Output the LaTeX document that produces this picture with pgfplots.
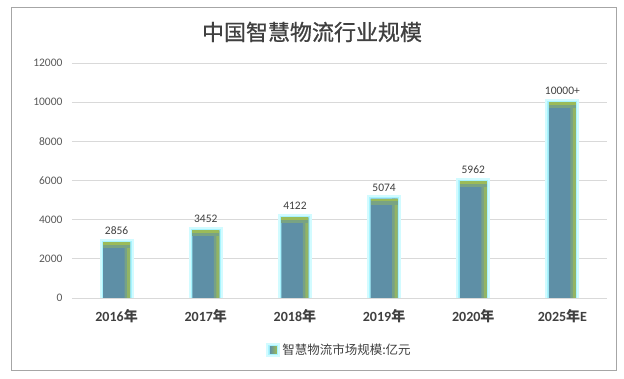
\documentclass[border=0pt]{standalone}
\usepackage{fontspec}
\setmainfont{Carlito}
\newfontfamily\cjk{Noto Sans CJK SC}
\newfontfamily\cjkt[FakeBold=0.8]{Noto Sans CJK SC}
\usepackage{pgfplots}
\pgfplotsset{compat=1.18}
\usepackage{pgfplotstable}
\definecolor{barblue}{HTML}{5E8FA6}
\definecolor{bargreen}{HTML}{9BBB59}
\definecolor{glow}{HTML}{D2FBFF}
\definecolor{glowin}{HTML}{A8F4FF}
\definecolor{txt}{HTML}{404040}
\definecolor{ticktxt}{HTML}{595959}
\definecolor{gridc}{HTML}{D9D9D9}
\definecolor{framec}{HTML}{A6A6A6}
\pgfplotstableread{
x y label
0 2856 2856
1 3452 3452
2 4122 4122
3 5074 5074
4 5962 5962
5 10000 10000+
}\datatable
\begin{document}
\begin{tikzpicture}[x=1pt,y=1pt]
\fill[white] (0,0) rectangle (624,379);
\draw[framec, line width=1pt] (11,8) rectangle (616,371);
\node[text=txt, font={\fontsize{22}{26}\selectfont\cjkt}] at (312,347) {中国智慧物流行业规模};
\begin{axis}[
  at={(72pt,81pt)}, anchor=south west,
  scale only axis, width=535pt, height=235pt,
  xmin=-0.5, xmax=5.5, ymin=0, ymax=12000,
  ytick={0,2000,...,12000},
  scaled y ticks=false,
  xtick=data,
  xticklabels={{\bfseries 2016{\cjk 年}},{\bfseries 2017{\cjk 年}},{\bfseries 2018{\cjk 年}},{\bfseries 2019{\cjk 年}},{\bfseries 2020{\cjk 年}},{\bfseries 2025{\cjk 年}E}},
  xticklabel style={font=\fontsize{14}{16}\selectfont, text=txt, yshift=-8pt},
  yticklabel style={font=\fontsize{11.5}{13}\selectfont, text=ticktxt, xshift=-6pt},
  /pgf/number format/.cd, 1000 sep={}, assume math mode=true, /pgfplots/.cd,
  axis line style={draw=none},
  major tick length=0pt,
  ymajorgrids, grid style={gridc, line width=0.8pt},
  ybar, bar width=27pt,
  legend style={at={(axis description cs:0.5,-0.221)}, anchor=center, draw=none, fill=none,
    font=\fontsize{12.5}{14}\selectfont\cjk, text=txt, legend cell align=left},
  legend image code/.code={\shade[left color=barblue, right color=bargreen] (0pt,-3.5pt) rectangle (7pt,3.5pt);},
]
% main bar with glow and labels
\addplot[bar shift=0pt, draw=none, fill=barblue,
  preaction={draw=glow, line width=7pt},
  preaction={draw=glowin, line width=3pt},
  point meta=explicit symbolic,
  nodes near coords,
  nodes near coords style={font=\fontsize{11.5}{13}\selectfont, text=txt, anchor=south, yshift=4pt}]
  table[x=x, y=y, meta=label] {\datatable};
\addlegendentry{智慧物流市场规模:亿元}
% right-edge highlight
\addplot[bar shift=9.5pt, bar width=3pt, draw=none, fill=bargreen!40!barblue, forget plot]
  table[x=x, y=y] {\datatable};
\addplot[bar shift=12pt, bar width=3pt, draw=none, fill=bargreen!85!barblue, forget plot]
  table[x=x, y=y] {\datatable};
% top-edge highlight
\addplot[bar shift=0pt, draw=none, fill=none, forget plot,
  error bars/.cd, y dir=minus, y fixed=300, error mark=none,
  error bar style={line width=27pt, color=bargreen!45!barblue, line cap=butt}]
  table[x=x, y=y] {\datatable};
\addplot[bar shift=0pt, draw=none, fill=none, forget plot,
  error bars/.cd, y dir=minus, y fixed=140, error mark=none,
  error bar style={line width=27pt, color=bargreen, line cap=butt}]
  table[x=x, y=y] {\datatable};
\end{axis}
\end{tikzpicture}
\end{document}
